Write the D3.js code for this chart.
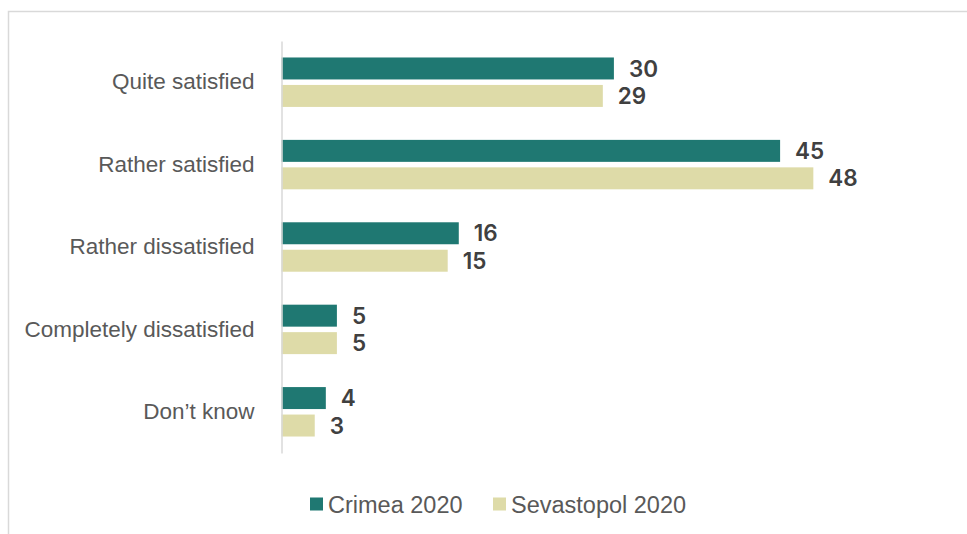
<!DOCTYPE html>
<html>
<head>
<meta charset="utf-8">
<script src="https://cdn.jsdelivr.net/npm/d3@7"></script>
<style>
  html, body { margin: 0; padding: 0; background: #ffffff; }
  svg { display: block; }
</style>
</head>
<body>
<svg id="chart" width="967" height="534"></svg>
<script>
// Survey answers and the two regional series
const categories = ["Quite satisfied", "Rather satisfied", "Rather dissatisfied", "Completely dissatisfied", "Don\u2019t know"];
const seriesNames = ["Crimea 2020", "Sevastopol 2020"];
const crimea = [30, 45, 16, 5, 4];
const sevastopol = [29, 48, 15, 5, 3];
const seriesColors = ["#1f7872", "#dedba8"];

const svg = d3.select("#chart");
const W = 967, H = 534;

// outer frame
svg.append("rect")
  .attr("x", 8.5).attr("y", 11.5)
  .attr("width", W + 10).attr("height", H + 10)
  .attr("fill", "#ffffff")
  .attr("stroke", "#d9d9d9").attr("stroke-width", 1.5);

const x = d3.scaleLinear().domain([0, 50]).range([281.5, 835.5]);
const y = d3.scaleBand().domain(categories).range([41, 453])
  .paddingInner(0.4).paddingOuter(0.2);
const ySub = d3.scaleBand().domain(seriesNames).range([0, y.bandwidth()])
  .paddingInner(0.2).paddingOuter(0);

const values = [crimea, sevastopol];
const rows = [];
categories.forEach((c, i) => {
  seriesNames.forEach((s, j) => rows.push({ cat: c, series: s, value: values[j][i], color: seriesColors[j] }));
});

// bars
svg.append("g").selectAll("rect")
  .data(rows)
  .join("rect")
  .attr("x", x(0))
  .attr("y", d => y(d.cat) + ySub(d.series))
  .attr("width", d => x(d.value) - x(0))
  .attr("height", ySub.bandwidth())
  .attr("fill", d => d.color);

// value labels
svg.append("g").selectAll("text")
  .data(rows)
  .join("text")
  .attr("x", d => x(d.value) + 15)
  .attr("y", d => y(d.cat) + ySub(d.series) + ySub.bandwidth() / 2)
  .attr("dy", "0.36em")
  .attr("font-family", "Inter, 'DejaVu Sans', sans-serif")
  .attr("font-weight", 600)
  .attr("font-size", 22.5)
  .attr("fill", "#404040")
  .text(d => d.value);

// category axis
const axis = d3.axisLeft(y).tickSize(0).tickPadding(27);
const gAxis = svg.append("g").attr("transform", `translate(${x(0)},0)`).call(axis);
gAxis.select(".domain").attr("stroke", "#d9d9d9").attr("stroke-width", 1.5);
gAxis.selectAll(".tick text")
  .attr("font-family", "'Liberation Sans', Arial, sans-serif")
  .attr("font-size", 22.5)
  .attr("fill", "#595959");

// legend
const legend = svg.append("g");
const legendX = [310, 493];
seriesNames.forEach((s, j) => {
  legend.append("rect")
    .attr("x", legendX[j]).attr("y", 497.5)
    .attr("width", 13).attr("height", 13)
    .attr("fill", seriesColors[j]);
  legend.append("text")
    .attr("x", legendX[j] + 18).attr("y", 513)
    .attr("font-family", "'Liberation Sans', Arial, sans-serif")
    .attr("font-size", 23.5)
    .attr("fill", "#595959")
    .text(s);
});
</script>
</body>
</html>
